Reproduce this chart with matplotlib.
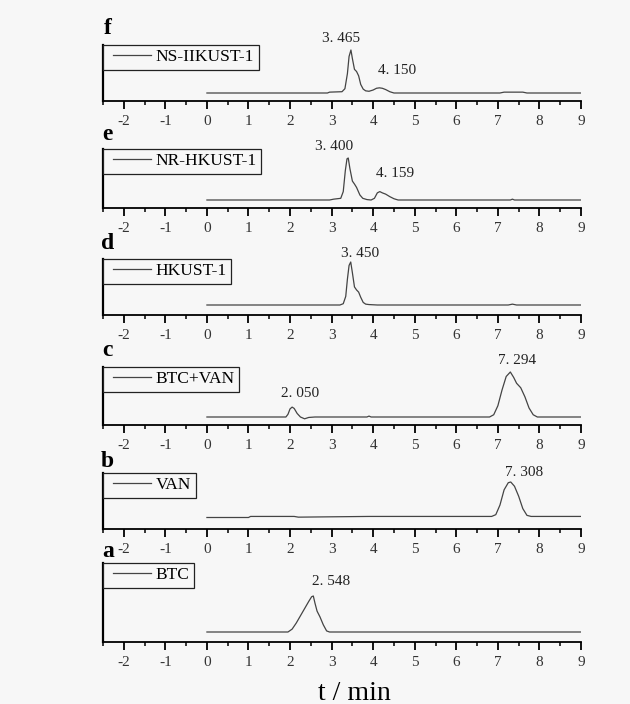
import matplotlib
matplotlib.use('Agg')
import matplotlib.pyplot as plt
from matplotlib.ticker import MultipleLocator
from matplotlib.legend_handler import HandlerLine2D
from matplotlib.lines import Line2D
import matplotlib.transforms as mtransforms

plt.rcParams['font.family'] = ['Liberation Serif', 'DejaVu Serif']
plt.rcParams['axes.unicode_minus'] = False

# panel names, top to bottom
letters = ['f', 'e', 'd', 'c', 'b', 'a']
names = ['NS-IIKUST-1', 'NR-HKUST-1', 'HKUST-1', 'BTC+VAN', 'VAN', 'BTC']

# chromatogram traces (time / min, relative signal)
t_f = [0, 2.9, 2.95, 3.25, 3.32, 3.38, 3.42, 3.465, 3.5, 3.55, 3.6, 3.65, 3.7, 3.76, 3.82,
       3.9, 4.0, 4.08, 4.15, 4.22, 4.3, 4.4, 4.5, 7.05, 7.15, 7.6, 7.7, 9.0]
y_f = [0, 0, 2, 3, 10, 45, 85, 100, 80, 55, 50, 40, 20, 9, 5,
       4, 7, 11, 12, 11, 8, 3, 0, 0, 2, 2, 0, 0]

t_e = [0, 2.95, 3.05, 3.22, 3.28, 3.33, 3.37, 3.40, 3.44, 3.5, 3.55, 3.6, 3.68, 3.75, 3.85,
       3.95, 4.03, 4.1, 4.16, 4.22, 4.3, 4.4, 4.5, 4.6, 7.3, 7.35, 7.4, 9.0]
y_e = [0, 0, 2, 4, 20, 70, 98, 100, 75, 45, 38, 30, 12, 4, 1,
       0, 4, 17, 20, 17, 14, 8, 3, 0, 0, 2, 0, 0]

t_d = [0, 3.2, 3.28, 3.34, 3.38, 3.42, 3.46, 3.5, 3.55, 3.6, 3.65, 3.7, 3.76, 3.82, 3.9,
       4.1, 7.25, 7.35, 7.45, 9.0]
y_d = [0, 0, 3, 20, 60, 92, 100, 75, 42, 35, 30, 18, 6, 2, 1,
       0, 0, 2, 0, 0]

t_c = [0, 1.9, 1.95, 2.0, 2.05, 2.1, 2.17, 2.25, 2.35, 2.45, 2.6, 3.85, 3.9, 3.95, 6.8,
       6.9, 7.0, 7.1, 7.2, 7.3, 7.38, 7.45, 7.55, 7.65, 7.75, 7.85, 7.95, 9.0]
y_c = [0, 0, 6, 18, 22, 19, 8, 0, -4, -1, 0, 0, 2, 0, 0,
       5, 25, 60, 90, 100, 88, 75, 65, 45, 20, 5, 0, 0]

t_b = [0, 1.0, 1.05, 2.1, 2.2, 3.9, 4.0, 6.85, 6.95, 7.05, 7.15, 7.25, 7.31, 7.4, 7.5,
       7.6, 7.7, 7.8, 9.0]
y_b = [0, 0, 3, 3, 1, 3, 3, 3, 8, 35, 78, 98, 100, 88, 60,
       25, 6, 3, 3]

t_a = [0, 1.95, 2.05, 2.15, 2.25, 2.35, 2.45, 2.52, 2.56, 2.6, 2.65, 2.72, 2.8, 2.88, 2.95, 9.0]
y_a = [0, 0, 8, 25, 45, 65, 85, 98, 100, 80, 58, 42, 20, 3, 0, 0]

traces = [(t_f, y_f), (t_e, y_e), (t_d, y_d), (t_c, y_c), (t_b, y_b), (t_a, y_a)]

# peak labels: (panel index, text, x in min, y in axes fraction)
peak_labels = [
    (0, '3. 465', 3.22, 1.125), (0, '4. 150', 4.57, 0.54),
    (1, '3. 400', 3.06, 1.05), (1, '4. 159', 4.52, 0.59),
    (2, '3. 450', 3.68, 1.09),
    (3, '2. 050', 2.24, 0.55), (3, '7. 294', 7.45, 1.12),
    (4, '7. 308', 7.64, 1.0),
    (5, '2. 548', 2.98, 0.76),
]

# layout in pixels of the 630x704 figure: (axis line y, axes height, baseline offset, peak height)
W, H = 630, 704
panel_px = [(101, 56, 8, 43), (208, 59, 8, 42), (315, 56, 10, 43),
            (425, 58, 8, 45), (529, 56, 11.5, 35.5), (642, 79, 10, 36)]
letter_y = [1.29, 1.24, 1.27, 1.29, 1.21, 1.15]

bg = '#f7f7f7'
lc = '#444444'
fig = plt.figure(figsize=(W / 100, H / 100), dpi=100, facecolor=bg)

for i, (tt, yy) in enumerate(traces):
    ybot, h, b, p = panel_px[i]
    ax = fig.add_axes([103 / W, 1 - ybot / H, 478 / W, h / H])
    ax.patch.set_visible(False)
    ax.plot(tt, yy, color=lc, lw=0.9, label=names[i])
    ax.set_xlim(-2.5, 9)
    scale = 100 / p
    ax.set_ylim(-b * scale, (h - b) * scale)
    for s in ['top', 'right']:
        ax.spines[s].set_visible(False)
    ax.spines['left'].set_linewidth(1.6)
    ax.spines['bottom'].set_linewidth(1.3)
    ax.set_yticks([])
    ax.xaxis.set_major_locator(MultipleLocator(1))
    ax.xaxis.set_minor_locator(MultipleLocator(0.5))
    ax.tick_params(axis='x', which='major', direction='out', length=6, width=1.3,
                   pad=4, labelsize=11, labelcolor='#333333')
    ax.tick_params(axis='x', which='minor', direction='out', length=3, width=1.1)
    leg = ax.legend(loc='upper left', bbox_to_anchor=(0, 1), borderaxespad=0,
                    fontsize=12.5, handlelength=2.5, handletextpad=0.3,
                    borderpad=0.25, fancybox=False, framealpha=1,
                    edgecolor='#222222', facecolor=bg,
                    handler_map={Line2D: HandlerLine2D(xpad=0.35)})
    leg.get_frame().set_linewidth(0.9)
    ax.text(0.01, letter_y[i], letters[i], transform=ax.transAxes,
            fontsize=17, fontweight='bold', ha='center', va='center')
    trans = mtransforms.blended_transform_factory(ax.transData, ax.transAxes)
    for k, txt, x, y in peak_labels:
        if k == i:
            ax.text(x, y, txt, transform=trans, fontsize=11, ha='center',
                    va='center', color='#222222')

fig.text(354 / W, 1 - 693 / H, 't / min', fontsize=20, ha='center', va='center')

fig.savefig('out.png', dpi=100, facecolor=bg)
